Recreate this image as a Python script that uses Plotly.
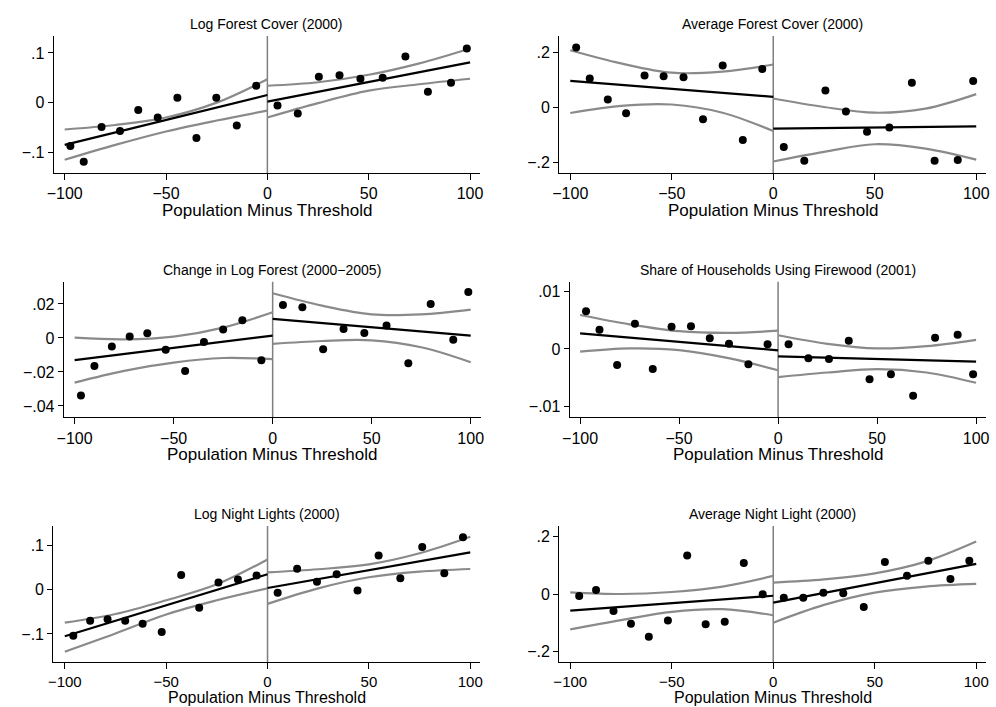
import plotly.graph_objects as go

# ---------------- data ----------------
x_tickvals = [-100, -50, 0, 50, 100]
x_ticktext = ["\u2212100", "\u221250", "0", "50", "100"]
ci_x_left = [-100, -75, -50, -25, 0]
ci_x_right = [0, 25, 50, 75, 100]
fit_x_left = [-100, 0]
fit_x_right = [0, 100]

# Panel 1: Log Forest Cover (2000)
p1_title = "Log Forest Cover (2000)"
p1_x_left = [-97.2, -90.6, -81.8, -72.7, -63.7, -54.1, -44.4, -35.0, -25.2, -15.1, -5.5]
p1_y_left = [-0.087, -0.119, -0.049, -0.057, -0.015, -0.030, 0.010, -0.071, 0.010, -0.046, 0.034]
p1_x_right = [5.0, 15.0, 25.4, 35.6, 45.9, 56.9, 68.1, 79.2, 90.6, 98.4]
p1_y_right = [-0.006, -0.022, 0.052, 0.055, 0.048, 0.050, 0.093, 0.022, 0.040, 0.109]
p1_fit_left = [-0.085, 0.0154]
p1_fit_right = [0.002, 0.081]
p1_ci_up_left = [-0.054, -0.045, -0.030, 0.000, 0.047]
p1_ci_lo_left = [-0.115, -0.085, -0.058, -0.036, -0.016]
p1_ci_up_right = [0.034, 0.041, 0.056, 0.079, 0.109]
p1_ci_lo_right = [-0.030, -0.001, 0.024, 0.037, 0.048]
p1_ytickvals = [-0.1, 0, 0.1]
p1_yticktext = ["\u2212.1", "0", ".1"]

# Panel 2: Average Forest Cover (2000)
p2_title = "Average Forest Cover (2000)"
p2_x_left = [-97.1, -90.4, -81.5, -72.5, -63.4, -54.0, -44.2, -34.6, -24.9, -15.0, -5.4]
p2_y_left = [0.218, 0.105, 0.028, -0.022, 0.116, 0.113, 0.109, -0.044, 0.152, -0.120, 0.140]
p2_x_right = [5.2, 15.3, 25.7, 35.8, 46.2, 57.2, 68.3, 79.5, 90.9, 98.5]
p2_y_right = [-0.145, -0.195, 0.061, -0.016, -0.089, -0.074, 0.089, -0.195, -0.193, 0.096]
p2_fit_left = [0.096, 0.038]
p2_fit_right = [-0.078, -0.070]
p2_ci_up_left = [0.208, 0.160, 0.126, 0.130, 0.156]
p2_ci_lo_left = [-0.021, 0.005, 0.010, -0.020, -0.087]
p2_ci_up_right = [0.032, 0.001, -0.020, -0.005, 0.048]
p2_ci_lo_right = [-0.198, -0.163, -0.135, -0.151, -0.191]
p2_ytickvals = [-0.2, 0, 0.2]
p2_yticktext = ["\u2212.2", "0", ".2"]

# Panel 3: Change in Log Forest (2000-2005)
p3_title = "Change in Log Forest (2000\u22122005)"
p3_x_left = [-96.8, -90.0, -81.2, -72.2, -63.3, -54.0, -44.2, -34.7, -25.0, -15.3, -5.7]
p3_y_left = [-0.0339, -0.0165, -0.0051, 0.0008, 0.0027, -0.0069, -0.0194, -0.0024, 0.0049, 0.0104, -0.0131]
p3_x_right = [5.2, 15.0, 25.5, 35.8, 46.3, 57.5, 68.5, 79.8, 91.2, 98.8]
p3_y_right = [0.0194, 0.0180, -0.0067, 0.0053, 0.0029, 0.0073, -0.0149, 0.0200, -0.0010, 0.0271]
p3_fit_left = [-0.0131, 0.0014]
p3_fit_right = [0.0112, 0.0014]
p3_ci_up_left = [0.0002, -0.0008, 0.0008, 0.0061, 0.0151]
p3_ci_lo_left = [-0.0263, -0.0194, -0.0145, -0.0118, -0.0125]
p3_ci_up_right = [0.0263, 0.0190, 0.0139, 0.0139, 0.0167]
p3_ci_lo_right = [-0.0035, -0.0018, -0.0014, -0.0055, -0.0143]
p3_ytickvals = [-0.04, -0.02, 0, 0.02]
p3_yticktext = ["\u2212.04", "\u2212.02", "0", ".02"]

# Panel 4: Share of Households Using Firewood (2001)
p4_title = "Share of Households Using Firewood (2001)"
p4_x_left = [-97.0, -90.2, -81.3, -72.3, -63.3, -53.8, -44.0, -34.5, -24.8, -15.0, -5.3]
p4_y_left = [0.00657, 0.00337, -0.00279, 0.00442, -0.00349, 0.0039, 0.00395, 0.00186, 0.00093, -0.00267, 0.00081]
p4_x_right = [5.3, 15.3, 25.7, 35.7, 46.2, 57.0, 68.2, 79.3, 90.7, 98.5]
p4_y_right = [0.00081, -0.00163, -0.00174, 0.00145, -0.00529, -0.00442, -0.00814, 0.00198, 0.0025, -0.00442]
p4_fit_left = [0.00273, -0.00023]
p4_fit_right = [-0.00128, -0.00221]
p4_ci_up_left = [0.00593, 0.0043, 0.0031, 0.0028, 0.0032]
p4_ci_lo_left = [-0.00047, 0.0001, -0.0002, -0.0016, -0.0037]
p4_ci_up_right = [0.0024, 0.0009, 0.0001, 0.0005, 0.0016]
p4_ci_lo_right = [-0.0049, -0.0041, -0.0035, -0.0041, -0.0059]
p4_ytickvals = [-0.01, 0, 0.01]
p4_yticktext = ["\u2212.01", "0", ".01"]

# Panel 5: Log Night Lights (2000)
p5_title = "Log Night Lights (2000)"
p5_x_left = [-95.8, -87.5, -78.9, -70.2, -61.6, -52.2, -42.6, -33.7, -24.2, -14.6, -5.4]
p5_y_left = [-0.104, -0.070, -0.067, -0.070, -0.077, -0.0955, 0.033, -0.041, 0.016, 0.023, 0.032]
p5_x_right = [5.0, 14.6, 24.4, 34.1, 44.4, 54.8, 65.5, 76.3, 87.2, 96.4]
p5_y_right = [-0.007, 0.047, 0.018, 0.035, -0.002, 0.077, 0.026, 0.096, 0.037, 0.118]
p5_fit_left = [-0.105, 0.0346]
p5_fit_right = [0.0038, 0.0842]
p5_ci_up_left = [-0.0744, -0.055, -0.024, 0.012, 0.068]
p5_ci_lo_left = [-0.140, -0.099, -0.056, -0.024, 0.003]
p5_ci_up_right = [0.039, 0.046, 0.057, 0.082, 0.1195]
p5_ci_lo_right = [-0.032, 0.003, 0.028, 0.0406, 0.0466]
p5_ytickvals = [-0.1, 0, 0.1]
p5_yticktext = ["\u2212.1", "0", ".1"]

# Panel 6: Average Night Light (2000)
p6_title = "Average Night Light (2000)"
p6_x_left = [-95.6, -87.3, -78.7, -70.1, -61.3, -51.9, -42.4, -33.3, -23.9, -14.5, -5.2]
p6_y_left = [-0.007, 0.014, -0.059, -0.1035, -0.149, -0.092, 0.134, -0.105, -0.0965, 0.108, -0.001]
p6_x_right = [5.2, 14.8, 24.7, 34.5, 44.6, 55.0, 65.9, 76.4, 87.3, 96.6]
p6_y_right = [-0.0128, -0.0128, 0.0047, 0.0023, -0.0453, 0.1116, 0.064, 0.1163, 0.0523, 0.1163]
p6_fit_left = [-0.058, -0.006]
p6_fit_right = [-0.030, 0.105]
p6_ci_up_left = [0.006, 0.000, 0.007, 0.026, 0.063]
p6_ci_lo_left = [-0.123, -0.091, -0.062, -0.053, -0.074]
p6_ci_up_right = [0.040, 0.051, 0.072, 0.113, 0.183]
p6_ci_lo_right = [-0.100, -0.038, 0.005, 0.026, 0.035]
p6_ytickvals = [-0.2, 0, 0.2]
p6_yticktext = ["\u2212.2", "0", ".2"]

# ---------------- layout config ----------------
W, H = 996, 707
FONT = "Liberation Sans, Arial, Helvetica, sans-serif"
CI_COLOR = "#8a8a8a"

panels = [
    dict(title=p1_title, xl=p1_x_left, yl=p1_y_left, xr=p1_x_right, yr=p1_y_right,
         fl=p1_fit_left, fr=p1_fit_right, ul=p1_ci_up_left, ll=p1_ci_lo_left,
         ur=p1_ci_up_right, lr=p1_ci_lo_right, tv=p1_ytickvals, tt=p1_yticktext),
    dict(title=p2_title, xl=p2_x_left, yl=p2_y_left, xr=p2_x_right, yr=p2_y_right,
         fl=p2_fit_left, fr=p2_fit_right, ul=p2_ci_up_left, ll=p2_ci_lo_left,
         ur=p2_ci_up_right, lr=p2_ci_lo_right, tv=p2_ytickvals, tt=p2_yticktext),
    dict(title=p3_title, xl=p3_x_left, yl=p3_y_left, xr=p3_x_right, yr=p3_y_right,
         fl=p3_fit_left, fr=p3_fit_right, ul=p3_ci_up_left, ll=p3_ci_lo_left,
         ur=p3_ci_up_right, lr=p3_ci_lo_right, tv=p3_ytickvals, tt=p3_yticktext),
    dict(title=p4_title, xl=p4_x_left, yl=p4_y_left, xr=p4_x_right, yr=p4_y_right,
         fl=p4_fit_left, fr=p4_fit_right, ul=p4_ci_up_left, ll=p4_ci_lo_left,
         ur=p4_ci_up_right, lr=p4_ci_lo_right, tv=p4_ytickvals, tt=p4_yticktext),
    dict(title=p5_title, xl=p5_x_left, yl=p5_y_left, xr=p5_x_right, yr=p5_y_right,
         fl=p5_fit_left, fr=p5_fit_right, ul=p5_ci_up_left, ll=p5_ci_lo_left,
         ur=p5_ci_up_right, lr=p5_ci_lo_right, tv=p5_ytickvals, tt=p5_yticktext),
    dict(title=p6_title, xl=p6_x_left, yl=p6_y_left, xr=p6_x_right, yr=p6_y_right,
         fl=p6_fit_left, fr=p6_fit_right, ul=p6_ci_up_left, ll=p6_ci_lo_left,
         ur=p6_ci_up_right, lr=p6_ci_lo_right, tv=p6_ytickvals, tt=p6_yticktext),
]

# plot-area boxes in pixels: (left, right, top, bottom) and axis ranges
boxes = [
    (47.0, 478.0, 36.0, 173.0),
    (557.7, 989.3, 36.0, 173.0),
    (57.3, 479.0, 281.7, 417.3),
    (568.3, 989.3, 281.7, 417.3),
    (46.7, 478.0, 526.0, 662.3),
    (557.7, 989.3, 526.0, 662.3),
]
xranges = [(-105.5, 105.0), (-105.5, 105.0), (-105.5, 105.3),
           (-105.3, 105.2), (-105.7, 104.9), (-105.5, 105.0)]
yranges = [(-0.1415, 0.134), (-0.240, 0.260), (-0.0467, 0.0331),
           (-0.01192, 0.01174), (-0.1639, 0.1436), (-0.238, 0.237)]

fig = go.Figure()
layout = dict(
    width=W, height=H, margin=dict(l=0, r=0, t=0, b=0),
    paper_bgcolor="white", plot_bgcolor="white", showlegend=False,
    font=dict(family=FONT, color="black"),
)
annotations = []
shapes = []

for i, p in enumerate(panels):
    n = i + 1
    xs = "x" if n == 1 else f"x{n}"
    ys = "y" if n == 1 else f"y{n}"
    xa = "xaxis" if n == 1 else f"xaxis{n}"
    ya = "yaxis" if n == 1 else f"yaxis{n}"
    l, r, t, b = boxes[i]
    bottom_row = i >= 4

    # threshold line
    shapes.append(dict(type="line", xref=xs, yref=f"{ys} domain", x0=0, x1=0, y0=0, y1=1,
                       line=dict(color="#7f7f7f", width=1.5), layer="below"))

    for cx, cu, cl in ((ci_x_left, p["ul"], p["ll"]), (ci_x_right, p["ur"], p["lr"])):
        for cy in (cu, cl):
            fig.add_trace(go.Scatter(x=cx, y=cy, mode="lines", xaxis=xs, yaxis=ys,
                                     line=dict(color=CI_COLOR, width=2.2, shape="spline", smoothing=1.0),
                                     hoverinfo="skip"))
    fig.add_trace(go.Scatter(x=fit_x_left, y=p["fl"], mode="lines", xaxis=xs, yaxis=ys,
                             line=dict(color="black", width=2.2)))
    fig.add_trace(go.Scatter(x=fit_x_right, y=p["fr"], mode="lines", xaxis=xs, yaxis=ys,
                             line=dict(color="black", width=2.2)))
    fig.add_trace(go.Scatter(x=p["xl"] + p["xr"], y=p["yl"] + p["yr"], mode="markers",
                             xaxis=xs, yaxis=ys,
                             marker=dict(color="black", size=8, line=dict(width=0))))

    tick_size = 15 if bottom_row else 16
    layout[xa] = dict(
        domain=[l / W, r / W], range=list(xranges[i]), anchor=ys,
        tickvals=x_tickvals, ticktext=x_ticktext,
        showline=True, linecolor="black", linewidth=1, ticks="outside", ticklen=6,
        tickcolor="black", tickwidth=1, showgrid=False, zeroline=False,
        tickfont=dict(size=tick_size, color="black", family=FONT), fixedrange=True,
    )
    layout[ya] = dict(
        domain=[1 - b / H, 1 - t / H], range=list(yranges[i]), anchor=xs,
        tickvals=p["tv"], ticktext=p["tt"],
        showline=True, linecolor="black", linewidth=1, ticks="outside", ticklen=5,
        tickcolor="black", tickwidth=1, showgrid=False, zeroline=False,
        tickfont=dict(size=16, color="black", family=FONT), fixedrange=True,
    )

    cx_paper = (l + r) / 2 / W
    annotations.append(dict(text=p["title"], xref="paper", yref="paper",
                            x=cx_paper, y=1 - (t - 12) / H, xanchor="center", yanchor="middle",
                            showarrow=False, font=dict(size=14, color="black", family=FONT)))
    if bottom_row:
        annotations.append(dict(text="Population Minus Threshold", xref="paper", yref="paper",
                                x=cx_paper, y=1 - 697.5 / H, xanchor="center", yanchor="middle",
                                showarrow=False, borderpad=0,
                                font=dict(size=16, color="black", family=FONT)))
    else:
        annotations.append(dict(text="Population Minus Threshold", xref="paper", yref="paper",
                                x=cx_paper, y=1 - (b + 37) / H, xanchor="center", yanchor="middle",
                                showarrow=False,
                                font=dict(size=17, color="black", family=FONT)))

layout["annotations"] = annotations
layout["shapes"] = shapes
fig.update_layout(**layout)
fig.write_html(
    "out.html",
    config={"displayModeBar": False},
    post_script="document.body.style.margin='0px';document.body.style.padding='0px';"
                "document.body.style.overflow='hidden';",
)
